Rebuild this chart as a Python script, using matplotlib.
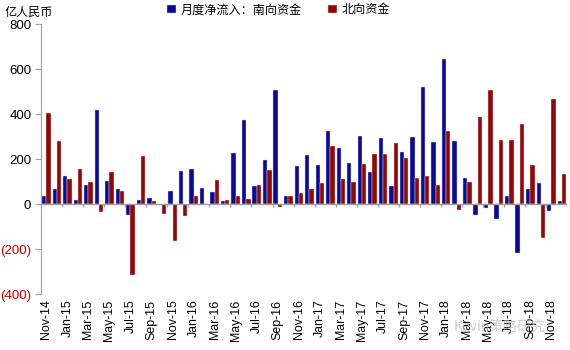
import numpy as np
import matplotlib
matplotlib.use("Agg")
import matplotlib.pyplot as plt
from matplotlib.ticker import FixedLocator, FuncFormatter

plt.rcParams['font.family'] = ['Liberation Sans', 'Noto Sans CJK SC', 'DejaVu Sans']

# monthly net inflow, 100m RMB, Nov-14 .. Dec-18
months = ['Nov-14', 'Dec-14', 'Jan-15', 'Feb-15', 'Mar-15', 'Apr-15', 'May-15', 'Jun-15',
          'Jul-15', 'Aug-15', 'Sep-15', 'Oct-15', 'Nov-15', 'Dec-15', 'Jan-16', 'Feb-16',
          'Mar-16', 'Apr-16', 'May-16', 'Jun-16', 'Jul-16', 'Aug-16', 'Sep-16', 'Oct-16',
          'Nov-16', 'Dec-16', 'Jan-17', 'Feb-17', 'Mar-17', 'Apr-17', 'May-17', 'Jun-17',
          'Jul-17', 'Aug-17', 'Sep-17', 'Oct-17', 'Nov-17', 'Dec-17', 'Jan-18', 'Feb-18',
          'Mar-18', 'Apr-18', 'May-18', 'Jun-18', 'Jul-18', 'Aug-18', 'Sep-18', 'Oct-18',
          'Nov-18', 'Dec-18']

southbound = [34, 67, 124, 17, 86, 417, 101, 68, -49, 18, 28, -3, 56, 148, 157, 70,
              53, 13, 225, 372, 81, 194, 506, 34, 167, 219, 172, 327, 249, 182, 304, 142,
              295, 80, 230, 299, 521, 275, 644, 281, 114, -49, -18, -65, 37, -219, 67, 95,
              -31, 13]

northbound = [406, 280, 113, 157, 98, -37, 144, 58, -315, 215, 13, -46, -166, -53, 34, 0,
              107, 19, 36, 22, 86, 150, -13, 34, 50, 67, 95, 258, 111, 99, 176, 221,
              224, 271, 207, 117, 126, 84, 327, -27, 96, 385, 508, 284, 284, 354, 175, -150,
              468, 133]

blue = '#0b0b8c'
red = '#8c0a0a'
grey = '#a0a0a0'

fig = plt.figure(figsize=(5.7, 3.5), dpi=100)
ax = fig.add_axes([0.072, 0.16, 0.923, 0.771])

x = np.arange(len(months))
w = 0.41
b1 = ax.bar(x - w / 2, southbound, w, color=blue, edgecolor='#dcdcf0', linewidth=0.3)
b2 = ax.bar(x + w / 2, northbound, w, color=red, edgecolor='#f0dcdc', linewidth=0.3)

ax.set_xlim(-0.5, len(months) - 0.5)
ax.set_ylim(-400, 800)

for s in ['top', 'right', 'bottom']:
    ax.spines[s].set_visible(False)
ax.spines['left'].set_color(grey)

# zero line with tick marks every second month boundary
ax.axhline(0, color=grey, lw=1)
bounds = np.arange(1.5, len(months), 2)
ax.vlines(bounds, -13, 0, color=grey, lw=1)

ax.set_xticks(x[::2])
ax.set_xticklabels(months[::2], rotation=90, fontsize=8.9)
ax.tick_params(axis='x', length=0, pad=4)

yt = [-400, -200, 0, 200, 400, 600, 800]
ax.yaxis.set_major_locator(FixedLocator(yt))
ax.yaxis.set_major_formatter(FuncFormatter(
    lambda v, p: '(%d)' % abs(v) if v < 0 else '%d' % v))
ax.tick_params(axis='y', length=4, color=grey, labelsize=9.5, pad=3)
for lab, v in zip(ax.get_yticklabels(), yt):
    if v < 0:
        lab.set_color('#c00000')

fig.text(0.008, 0.965, '亿人民币', fontsize=8.7, va='center', ha='left',
         family=['Noto Sans CJK SC', 'DejaVu Sans'])

leg = fig.legend([b1, b2], ['月度净流入：南向资金', '北向资金'], ncol=2,
                 loc='center left', bbox_to_anchor=(0.285, 0.972), frameon=False,
                 handlelength=0.7, handleheight=0.7, handletextpad=0.4,
                 columnspacing=2.2, borderaxespad=0,
                 prop={'family': ['Noto Sans CJK SC', 'DejaVu Sans'], 'size': 8.7})

# watermark
fig.text(0.795, 0.065, 'Kevin策略研究', fontsize=10, color='#b8b8b8', alpha=0.7,
         family=['Noto Sans CJK SC', 'DejaVu Sans'], va='center')

fig.savefig('out.png', dpi=100)
